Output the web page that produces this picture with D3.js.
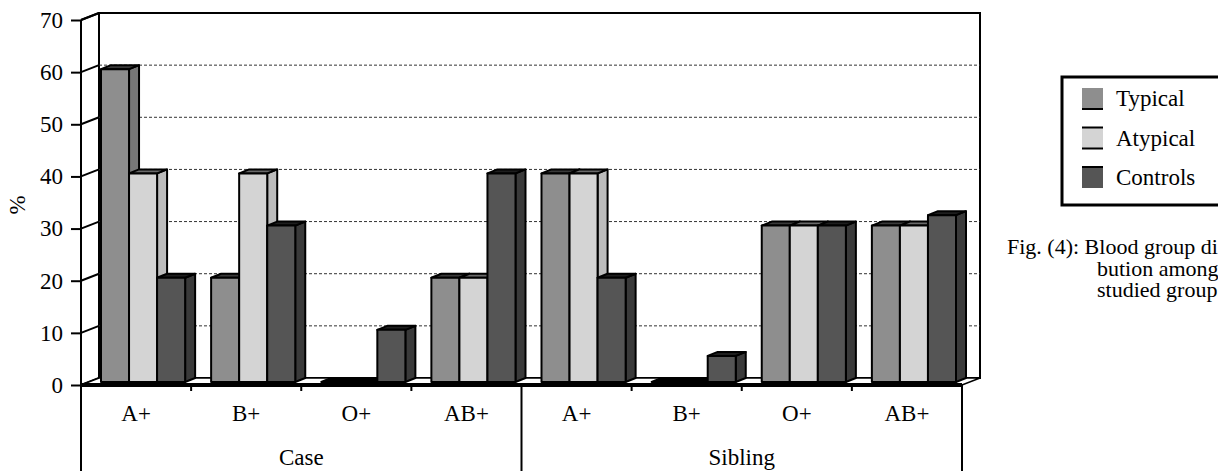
<!DOCTYPE html>
<html>
<head>
<meta charset="utf-8">
<script src="https://cdn.jsdelivr.net/npm/d3@7/dist/d3.min.js"></script>
<style>
  html, body { margin: 0; padding: 0; background: #fff; overflow: hidden; }
  svg { display: block; font-family: "Liberation Serif", "Times New Roman", serif; }
</style>
</head>
<body>
<svg id="chart" width="1218" height="471"></svg>
<script>
// Blood group distribution by study group
const groups = ["Case", "Sibling"];
const bloodGroups = ["A+", "B+", "O+", "AB+"];
const seriesNames = ["Typical", "Atypical", "Controls"];
const typical  = [60, 20, 0, 20, 40, 0, 30, 30];
const atypical = [40, 40, 0, 20, 40, 0, 30, 30];
const controls = [20, 30, 10, 40, 20, 5, 30, 32];
const yTicks = [0, 10, 20, 30, 40, 50, 60, 70];
const yLabel = "%";
const caption = ["Fig. (4): Blood group distri-", "bution among the", "studied groups."];

const seriesValues = [typical, atypical, controls];
const frontColor = ["#8e8e8e", "#d4d4d4", "#555555"];
const sideColor  = ["#777777", "#bcbcbc", "#3a3a3a"];
const topColor   = ["#3a3a3a", "#6a6a6a", "#1e1e1e"];

const svg = d3.select("#chart");

// 3D frame geometry
const left = 81, right = 962;
const wall = { dx: 18, dy: -7 };       // depth of the floor / walls
const barOff = { dx: 8, dy: -3 };      // where bar fronts sit in depth
const barDepth = { dx: 10, dy: -4 };   // bar thickness in depth

const y = d3.scaleLinear().domain([0, 70]).range([385, 20]);
const cats = [];
groups.forEach(g => bloodGroups.forEach(b => cats.push(g + "|" + b)));
const x = d3.scaleBand().domain(cats).range([left, right]);
const xs = d3.scaleBand().domain(seriesNames).range([12, x.bandwidth() - 14]);

const poly = pts => pts.map(p => p.join(",")).join(" ");

// back wall
svg.append("rect")
  .attr("x", left + wall.dx).attr("y", y(70) + wall.dy)
  .attr("width", right - left).attr("height", y(0) - y(70))
  .attr("fill", "#fff").attr("stroke", "#000").attr("stroke-width", 2);

// dashed gridlines on the back wall
svg.append("g").selectAll("line")
  .data(yTicks.filter(v => v > 0 && v < 70))
  .join("line")
  .attr("x1", left + wall.dx).attr("x2", right + wall.dx)
  .attr("y1", d => y(d) + wall.dy).attr("y2", d => y(d) + wall.dy)
  .attr("stroke", "#333").attr("stroke-width", 1)
  .attr("stroke-dasharray", "3,2");

// side wall edges at each tick
svg.append("g").selectAll("line")
  .data(yTicks)
  .join("line")
  .attr("x1", left).attr("y1", d => y(d))
  .attr("x2", left + wall.dx).attr("y2", d => y(d) + wall.dy)
  .attr("stroke", "#000").attr("stroke-width", 2);

// floor
svg.append("polygon")
  .attr("points", poly([[left, y(0)], [right, y(0)], [right + wall.dx, y(0) + wall.dy], [left + wall.dx, y(0) + wall.dy]]))
  .attr("fill", "#fff").attr("stroke", "#000").attr("stroke-width", 1.5);

// bars, drawn left to right so each front hides the previous side face
const bars = svg.append("g");
cats.forEach((c, ci) => {
  seriesNames.forEach((s, si) => {
    const v = seriesValues[si][ci];
    const x0 = x(c) + xs(s) + barOff.dx;
    const x1 = x0 + xs.bandwidth();
    const yb = y(0) + barOff.dy;
    const yt = y(v) + barOff.dy;
    const g = bars.append("g").attr("stroke", "#000").attr("stroke-width", 2).attr("stroke-linejoin", "round");
    if (v > 0) {
      g.append("polygon")
        .attr("points", poly([[x1, yb], [x1 + barDepth.dx, yb + barDepth.dy], [x1 + barDepth.dx, yt + barDepth.dy], [x1, yt]]))
        .attr("fill", sideColor[si]);
    }
    g.append("polygon")
      .attr("points", poly([[x0, yt], [x1, yt], [x1 + barDepth.dx, yt + barDepth.dy], [x0 + barDepth.dx, yt + barDepth.dy]]))
      .attr("fill", v > 0 ? topColor[si] : "#000");
    if (v > 0) {
      g.append("rect")
        .attr("x", x0).attr("y", yt)
        .attr("width", x1 - x0).attr("height", yb - yt)
        .attr("fill", frontColor[si]);
    }
  });
});

// front edge of the floor
svg.append("line")
  .attr("x1", left).attr("x2", right).attr("y1", y(0)).attr("y2", y(0))
  .attr("stroke", "#000").attr("stroke-width", 4);

// category ticks
svg.append("g").selectAll("line")
  .data(cats.slice(1).filter((c, i) => i !== 3))
  .join("line")
  .attr("x1", d => x(d)).attr("x2", d => x(d))
  .attr("y1", y(0)).attr("y2", y(0) + 6)
  .attr("stroke", "#000").attr("stroke-width", 2);

// group separators running down to the bottom
const sepX = [left, x(cats[4]), right];
svg.append("g").selectAll("line")
  .data(sepX)
  .join("line")
  .attr("x1", d => d).attr("x2", d => d)
  .attr("y1", d => d === left ? y(70) : y(0)).attr("y2", 471)
  .attr("stroke", "#000").attr("stroke-width", 2);

// top-left corner edge
svg.append("line")
  .attr("x1", left).attr("y1", y(70))
  .attr("x2", left + wall.dx).attr("y2", y(70) + wall.dy)
  .attr("stroke", "#000").attr("stroke-width", 2);

// value axis
const yAxis = svg.append("g")
  .attr("transform", `translate(${left},0)`)
  .call(d3.axisLeft(y).tickValues(yTicks).tickSize(10).tickPadding(8));
yAxis.select(".domain").remove();
yAxis.selectAll(".tick line").attr("stroke", "#000").attr("stroke-width", 2);
yAxis.selectAll(".tick text")
  .attr("font-family", "Liberation Serif, serif")
  .attr("font-size", 23).attr("fill", "#000");

svg.append("text")
  .attr("transform", `translate(25,${205}) rotate(-90)`)
  .attr("text-anchor", "middle")
  .attr("font-size", 23)
  .text(yLabel);

// category labels
svg.append("g").selectAll("text")
  .data(cats)
  .join("text")
  .attr("x", d => x(d) + x.bandwidth() / 2)
  .attr("y", 421)
  .attr("text-anchor", "middle")
  .attr("font-size", 23)
  .text(d => d.split("|")[1]);

// group labels
svg.append("g").selectAll("text")
  .data(groups)
  .join("text")
  .attr("x", (d, i) => (sepX[i] + sepX[i + 1]) / 2)
  .attr("y", 465)
  .attr("text-anchor", "middle")
  .attr("font-size", 23)
  .text(d => d);

// legend
const legend = svg.append("g");
legend.append("rect")
  .attr("x", 1062).attr("y", 77).attr("width", 220).attr("height", 128)
  .attr("fill", "#fff").attr("stroke", "#000").attr("stroke-width", 3);
seriesNames.forEach((s, i) => {
  const top = 88 + i * 39.5;
  legend.append("rect")
    .attr("x", 1082).attr("y", top).attr("width", 21).attr("height", 21)
    .attr("fill", frontColor[i]);
  if (i < 2) legend.append("line").attr("x1", 1082).attr("x2", 1103)
    .attr("y1", top + 21).attr("y2", top + 21).attr("stroke", "#000").attr("stroke-width", 2);
  if (i > 0) legend.append("line").attr("x1", 1082).attr("x2", 1103)
    .attr("y1", top).attr("y2", top).attr("stroke", "#000").attr("stroke-width", 2);
  legend.append("text")
    .attr("x", 1116).attr("y", top + 18)
    .attr("font-size", 23)
    .text(s);
});

// figure caption
const cap = svg.append("text").attr("font-size", 22);
caption.forEach((line, i) => {
  cap.append("tspan")
    .attr("x", i === 0 ? 1007 : 1097)
    .attr("y", 254 + i * 21.5)
    .text(line);
});
</script>
</body>
</html>
